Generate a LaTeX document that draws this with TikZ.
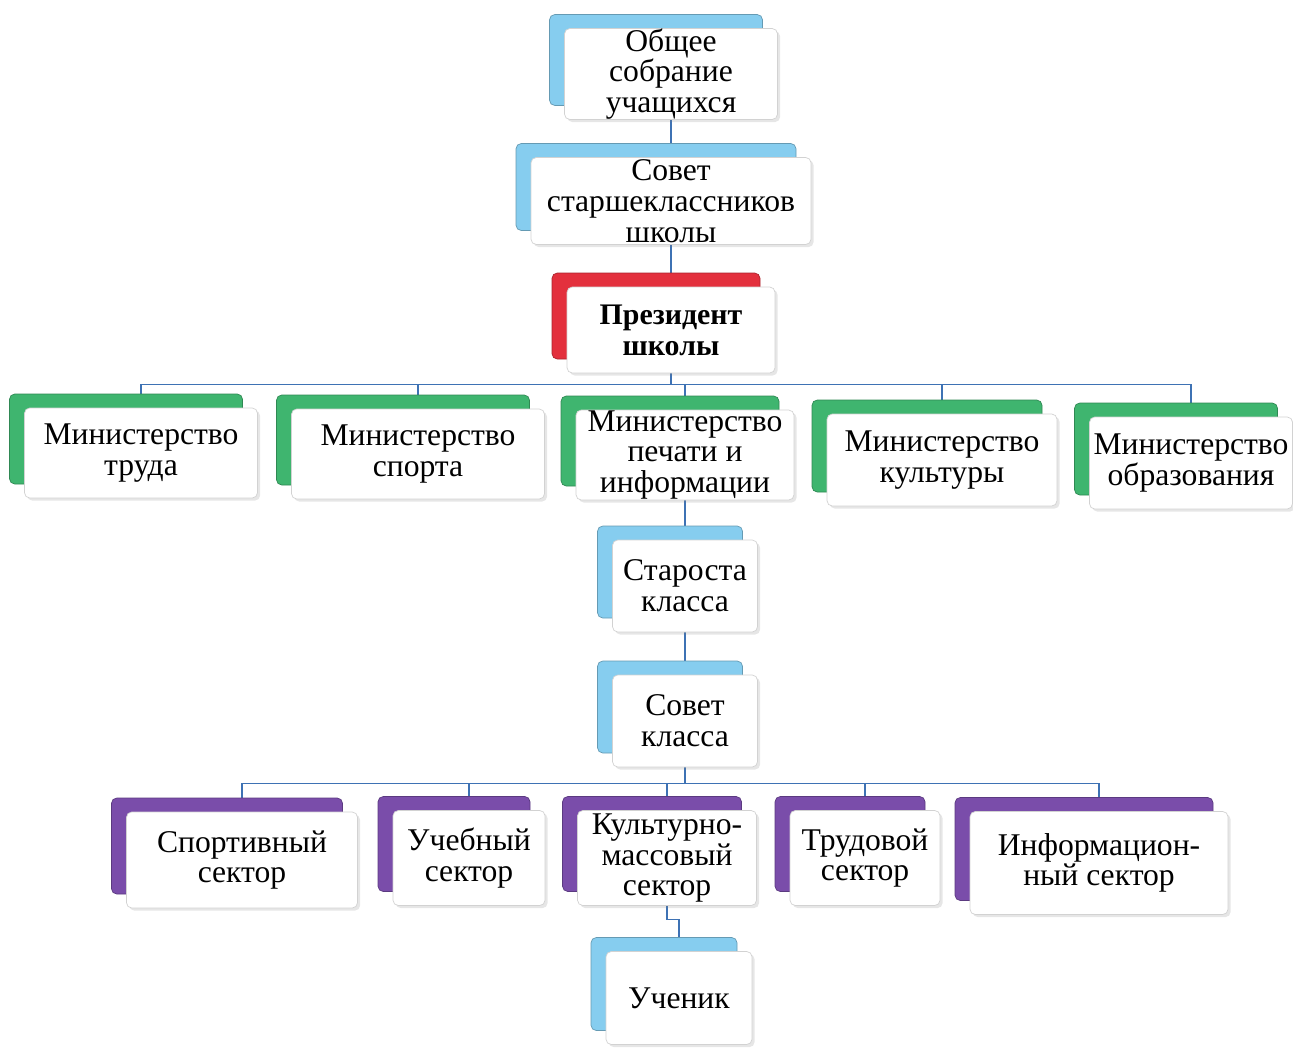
\documentclass[tikz,border=0pt]{standalone}
\usepackage{fontspec}
\setmainfont{Liberation Serif}
\usepackage{tikz}
\usetikzlibrary{shadows}
\usetikzlibrary{backgrounds}

\definecolor{tabblue}{HTML}{86CDEF}
\definecolor{tabred}{HTML}{E3303D}
\definecolor{tabgreen}{HTML}{3FB56F}
\definecolor{tabviolet}{HTML}{7A4DAA}
\definecolor{linkblue}{HTML}{3E72B4}

\tikzset{
  unit/.style={draw=gray!35,fill=white,rounded corners=3pt,align=center,inner sep=0pt,
    font=\fontsize{18}{17.5}\selectfont,
    drop shadow={opacity=0.2,shadow xshift=1.5pt,shadow yshift=-1.5pt}},
  tab/.style={general shadow={fill=#1,draw=#1!75!black,rounded corners=6pt,
    shadow xshift=-0.3cm,shadow yshift=0.28cm}},
  sz/.style 2 args={minimum width=#1*0.02cm,minimum height=#2*0.02cm},
  link/.style={draw=linkblue,line width=0.6pt},
}

\begin{document}
\begin{tikzpicture}[x=0.02cm,y=-0.02cm]
  \useasboundingbox (0,0) rectangle (1293,1048);

  \node[unit,tab=tabblue,sz={213}{88}] (obshee) at (671,74) {Общее\\собрание\\учащихся};
  \node[unit,tab=tabblue,sz={280}{87}] (sovet) at (671,201) {Совет\\старшеклассников\\школы};
  \node[unit,tab=tabred,sz={208}{86},font=\fontsize{17}{17.5}\selectfont\bfseries] (prez) at (671,330) {Президент\\школы};

  \node[unit,tab=tabgreen,sz={233}{90}] (trud) at (141,453) {Министерство\\труда};
  \node[unit,tab=tabgreen,sz={253}{90}] (sport) at (418,454) {Министерство\\спорта};
  \node[unit,tab=tabgreen,sz={218}{90}] (pechat) at (685,455) {Министерство\\печати и\\информации};
  \node[unit,tab=tabgreen,sz={230}{92}] (kult) at (942,460) {Министерство\\культуры};
  \node[unit,tab=tabgreen,sz={203}{92}] (obraz) at (1191,463) {Министерство\\образования};

  \node[unit,tab=tabblue,sz={145}{92}] (starosta) at (685,586) {Староста\\класса};
  \node[unit,tab=tabblue,sz={145}{92}] (sklass) at (685,721) {Совет\\класса};

  \node[unit,tab=tabviolet,sz={231}{96}] (s1) at (242,860) {Спортивный\\сектор};
  \node[unit,tab=tabviolet,sz={152}{95}] (s2) at (469,858) {Учебный\\сектор};
  \node[unit,tab=tabviolet,sz={179}{95}] (s3) at (667,858) {Культурно-\\массовый\\сектор};
  \node[unit,tab=tabviolet,sz={150}{95}] (s4) at (865,858) {Трудовой\\сектор};
  \node[unit,tab=tabviolet,sz={258}{103}] (s5) at (1099,863) {Информацион-\\ный сектор};

  \node[unit,tab=tabblue,sz={146}{93}] (uchenik) at (679,998) {Ученик};

  \begin{scope}[on background layer]
    \draw[link] (obshee.south) -- (sovet.north);
    \draw[link] (sovet.south) -- (prez.north);
    \foreach \m in {trud,sport,pechat,kult,obraz}
      \draw[link] (prez.south) -- ++(0,11) -| (\m.north);
    \draw[link] (pechat.south) -- (starosta.north);
    \draw[link] (starosta.south) -- (sklass.north);
    \foreach \s in {s1,s2,s3,s4,s5}
      \draw[link] (sklass.south) -- ++(0,16) -| (\s.north);
    \draw[link] (s3.south) -- ++(0,14) -| (uchenik.north);
  \end{scope}
\end{tikzpicture}
\end{document}
